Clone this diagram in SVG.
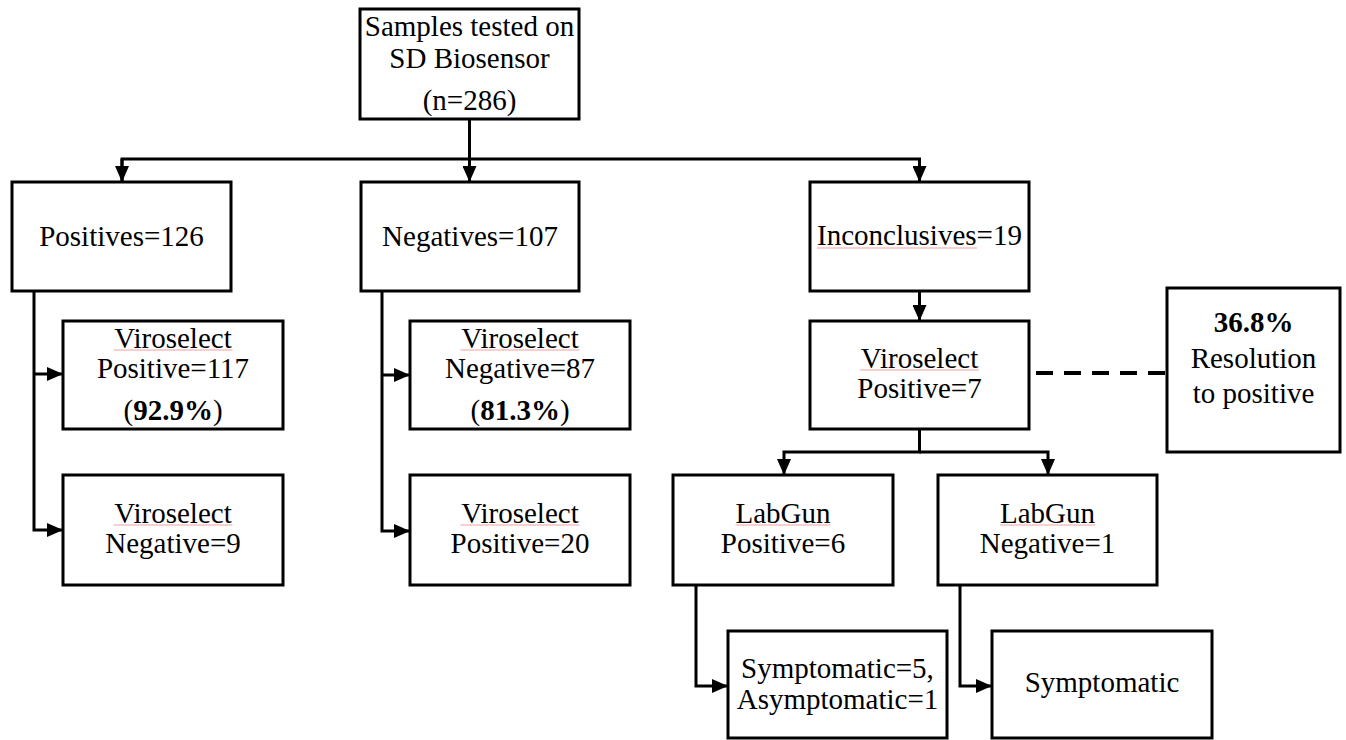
<svg xmlns="http://www.w3.org/2000/svg" width="1346" height="740" viewBox="0 0 1346 740" font-family="'Liberation Serif', 'Times New Roman', Times, serif">
<defs>
<marker id="arr" markerUnits="userSpaceOnUse" markerWidth="16" markerHeight="14" refX="16" refY="7" orient="auto"><path d="M0,0L16,7L0,14z" fill="#000"/></marker>
<style>
.box{fill:#fff;stroke:#000;stroke-width:3}
.t{font-family:'Liberation Serif',serif;font-size:29px;fill:#000;text-anchor:middle}
.b{font-weight:bold}
.c{fill:none;stroke:#000;stroke-width:3}
.sq{stroke:#f2a0a0;stroke-width:1;fill:none}
</style>
</defs>
<rect width="1346" height="740" fill="#fff"/>
<g id="connectors">
<path class="c" d="M469.5,119V182" marker-end="url(#arr)"/>
<path class="c" d="M122,182V159H919.5V182" marker-end="url(#arr)"/>
<path class="c" d="M122,159V182" marker-end="url(#arr)"/>
<path class="c" d="M34,291V530H63" marker-end="url(#arr)"/>
<path class="c" d="M34,374H63" marker-end="url(#arr)"/>
<path class="c" d="M382,291V531H410" marker-end="url(#arr)"/>
<path class="c" d="M382,375H410" marker-end="url(#arr)"/>
<path class="c" d="M919.5,291V321" marker-end="url(#arr)"/>
<path class="c" d="M919.5,429V452H784V475" marker-end="url(#arr)"/>
<path class="c" d="M919.5,452H1048V475" marker-end="url(#arr)"/>
<path class="c" d="M696,585V686H728" marker-end="url(#arr)"/>
<path class="c" d="M960,585V686H992" marker-end="url(#arr)"/>
<path d="M1036,373H1166" stroke="#000" stroke-width="4" stroke-dasharray="17 11" fill="none"/>
</g>
<g id="root">
<rect class="box" x="360" y="9" width="219" height="110"/>
<text class="t" x="469.5" y="36">Samples tested on</text>
<text class="t" x="469.5" y="68">SD Biosensor</text>
<text class="t" x="469.5" y="110">(n=286)</text>
</g>
<g id="positives">
<rect class="box" x="12" y="182" width="219" height="109"/>
<text class="t" x="121.5" y="246">Positives=126</text>
</g>
<g id="negatives">
<rect class="box" x="361" y="182" width="218" height="109"/>
<text class="t" x="470" y="246">Negatives=107</text>
</g>
<g id="inconclusives">
<rect class="box" x="810" y="182" width="219" height="109"/>
<text class="t" x="919.5" y="245">Inconclusives=19</text>
<path class="sq" d="M817,248H977"/>
</g>
<g id="vs-pos-117">
<rect class="box" x="63" y="321" width="220" height="108"/>
<text class="t" x="173" y="348">Viroselect</text>
<path class="sq" d="M113.5,350H232.5"/>
<text class="t" x="173" y="378">Positive=117</text>
<text class="t" x="173" y="420">(<tspan class="b">92.9%</tspan>)</text>
</g>
<g id="vs-neg-9">
<rect class="box" x="63" y="475" width="220" height="110"/>
<text class="t" x="173" y="523">Viroselect</text>
<path class="sq" d="M113.5,525H232.5"/>
<text class="t" x="173" y="553">Negative=9</text>
</g>
<g id="vs-neg-87">
<rect class="box" x="410" y="321" width="220" height="108"/>
<text class="t" x="520" y="348">Viroselect</text>
<path class="sq" d="M460.5,350H579.5"/>
<text class="t" x="520" y="378">Negative=87</text>
<text class="t" x="520" y="420">(<tspan class="b">81.3%</tspan>)</text>
</g>
<g id="vs-pos-20">
<rect class="box" x="410" y="475" width="220" height="110"/>
<text class="t" x="520" y="523">Viroselect</text>
<path class="sq" d="M460.5,525H579.5"/>
<text class="t" x="520" y="553">Positive=20</text>
</g>
<g id="vs-pos-7">
<rect class="box" x="810" y="321" width="219" height="108"/>
<text class="t" x="919.5" y="368">Viroselect</text>
<path class="sq" d="M860,370H979"/>
<text class="t" x="919.5" y="398">Positive=7</text>
</g>
<g id="resolution">
<rect class="box" x="1167" y="288" width="173" height="164"/>
<text class="t b" x="1253.5" y="332">36.8%</text>
<text class="t" x="1253.5" y="368">Resolution</text>
<text class="t" x="1253.5" y="403">to positive</text>
</g>
<g id="labgun-pos">
<rect class="box" x="673" y="475" width="220" height="110"/>
<text class="t" x="783" y="523">LabGun</text>
<path class="sq" d="M735.5,525H830.5"/>
<text class="t" x="783" y="553">Positive=6</text>
</g>
<g id="labgun-neg">
<rect class="box" x="938" y="475" width="219" height="110"/>
<text class="t" x="1047.5" y="523">LabGun</text>
<path class="sq" d="M1000,525H1095"/>
<text class="t" x="1047.5" y="553">Negative=1</text>
</g>
<g id="symptomatic-5">
<rect class="box" x="728" y="631" width="219" height="107"/>
<text class="t" x="837.5" y="678">Symptomatic=5,</text>
<text class="t" x="837.5" y="709">Asymptomatic=1</text>
</g>
<g id="symptomatic">
<rect class="box" x="992" y="631" width="220" height="107"/>
<text class="t" x="1102" y="692">Symptomatic</text>
</g>
</svg>
